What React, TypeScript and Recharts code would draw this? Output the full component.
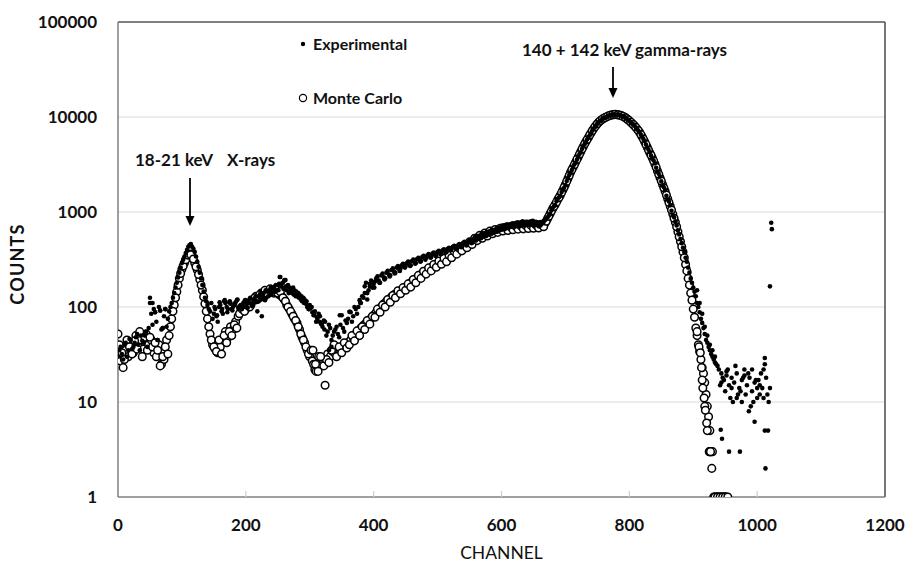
import React from "react";
import { ScatterChart, Scatter, XAxis, YAxis, ReferenceLine } from "recharts";

// ---------- data ----------
// channels sampled every 4 (set A) and the in-between channels (set B)
const channelsA = [
  0, 4, 8, 12, 16, 20, 24, 28, 32, 36,
  40, 44, 48, 52, 56, 60, 64, 68, 72, 76,
  80, 84, 88, 92, 96, 100, 104, 108, 112, 116,
  120, 124, 128, 132, 136, 140, 144, 148, 152, 156,
  160, 164, 168, 172, 176, 180, 184, 188, 192, 196,
  200, 204, 208, 212, 216, 220, 224, 228, 232, 236,
  240, 244, 248, 252, 256, 260, 264, 268, 272, 276,
  280, 284, 288, 292, 296, 300, 304, 308, 312, 316,
  320, 324, 328, 332, 336, 340, 344, 348, 352, 356,
  360, 364, 368, 372, 376, 380, 384, 388, 392, 396,
  400, 404, 408, 412, 416, 420, 424, 428, 432, 436,
  440, 444, 448, 452, 456, 460, 464, 468, 472, 476,
  480, 484, 488, 492, 496, 500, 504, 508, 512, 516,
  520, 524, 528, 532, 536, 540, 544, 548, 552, 556,
  560, 564, 568, 572, 576, 580, 584, 588, 592, 596,
  600, 604, 608, 612, 616, 620, 624, 628, 632, 636,
  640, 644, 648, 652, 656, 660, 664, 668, 672, 676,
  680, 684, 688, 692, 696, 700, 704, 708, 712, 716,
  720, 724, 728, 732, 736, 740, 744, 748, 752, 756,
  760, 764, 768, 772, 776, 780, 784, 788, 792, 796,
  800, 804, 808, 812, 816, 820, 824, 828, 832, 836,
  840, 844, 848, 852, 856, 860, 864, 868, 872, 876,
  880, 884, 888, 892, 896, 900, 904, 908, 912, 916,
  920, 924, 928, 932, 936, 940, 944, 948, 952, 956,
  960, 964, 968, 972, 976, 980, 984, 988, 992, 996,
  1000, 1004, 1008, 1012, 1016, 1020,
];

const channelsB = [
  2, 6, 10, 14, 18, 22, 26, 30, 34, 38,
  42, 46, 50, 54, 58, 62, 66, 70, 74, 78,
  82, 86, 90, 94, 98, 102, 106, 110, 114, 118,
  122, 126, 130, 134, 138, 142, 146, 150, 154, 158,
  162, 166, 170, 174, 178, 182, 186, 190, 194, 198,
  202, 206, 210, 214, 218, 222, 226, 230, 234, 238,
  242, 246, 250, 254, 258, 262, 266, 270, 274, 278,
  282, 286, 290, 294, 298, 302, 306, 310, 314, 318,
  322, 326, 330, 334, 338, 342, 346, 350, 354, 358,
  362, 366, 370, 374, 378, 382, 386, 390, 394, 398,
  402, 406, 410, 414, 418, 422, 426, 430, 434, 438,
  442, 446, 450, 454, 458, 462, 466, 470, 474, 478,
  482, 486, 490, 494, 498, 502, 506, 510, 514, 518,
  522, 526, 530, 534, 538, 542, 546, 550, 554, 558,
  562, 566, 570, 574, 578, 582, 586, 590, 594, 598,
  602, 606, 610, 614, 618, 622, 626, 630, 634, 638,
  642, 646, 650, 654, 658, 662, 666, 670, 674, 678,
  682, 686, 690, 694, 698, 702, 706, 710, 714, 718,
  722, 726, 730, 734, 738, 742, 746, 750, 754, 758,
  762, 766, 770, 774, 778, 782, 786, 790, 794, 798,
  802, 806, 810, 814, 818, 822, 826, 830, 834, 838,
  842, 846, 850, 854, 858, 862, 866, 870, 874, 878,
  882, 886, 890, 894, 898, 902, 906, 910, 914, 918,
  922, 926, 930, 934, 938, 942, 946, 950, 954, 958,
  962, 966, 970, 974, 978, 982, 986, 990, 994, 998,
  1002, 1006, 1010, 1014, 1018,
];

const experimentalCountsA = [
  30, 38, 28, 42, 35, 45, 38, 48, 40, 50,
  42, 55, 60, 85, 95, 70, 100, 58, 80, 62,
  90, 110, 140, 180, 230, 290, 340, 400, 450, 430,
  380, 300, 230, 170, 125, 105, 90, 75, 95, 70,
  105, 85, 110, 95, 108, 100, 112, 98, 105, 110,
  100, 115, 108, 120, 112, 130, 120, 140, 125, 150,
  140, 160, 150, 175, 165, 190, 150, 160, 140, 150,
  130, 135, 115, 120, 100, 105, 88, 90, 75, 80,
  62, 70, 55, 60, 50, 58, 52, 65, 60, 72,
  75, 88, 80, 95, 100, 110, 125, 180, 150, 190,
  175, 200, 190, 215, 205, 230, 220, 245, 235, 260,
  250, 275, 265, 290, 280, 305, 295, 320, 310, 335,
  325, 350, 340, 365, 355, 380, 370, 395, 385, 410,
  400, 430, 420, 445, 435, 470, 455, 490, 480, 520,
  500, 550, 530, 580, 560, 610, 590, 640, 620, 670,
  650, 700, 680, 720, 700, 750, 720, 760, 730, 770,
  740, 780, 750, 770, 730, 760, 780, 820, 880, 960,
  1100, 1180, 1380, 1480, 1730, 1920, 2280, 2580, 2990, 3320,
  3850, 4260, 4950, 5450, 6150, 6750, 7550, 8150, 8850, 9250,
  9750, 9950, 10350, 10450, 10650, 10550, 10550, 10250, 10050, 9550,
  9150, 8550, 8150, 7450, 6950, 6150, 5550, 4750, 4250, 3650,
  3250, 2650, 2350, 1900, 1700, 1350, 1180, 930, 800, 640,
  520, 420, 330, 260, 200, 160, 130, 100, 75, 60,
  45, 38, 32, 28, 25, 22, 20, 17, 19, 15,
  18, 16, 20, 14, 17, 22, 15, 18, 13, 16,
  14, 12, 14, 25, 12, 14,
];

const experimentalCountsB = [
  35, 32, 40, 30, 46, 36, 42, 52, 35, 44,
  50, 38, 110, 65, 88, 45, 92, 60, 95, 75,
  100, 125, 160, 205, 260, 315, 370, 430, 460, 410,
  340, 265, 200, 145, 115, 95, 110, 85, 80, 100,
  90, 115, 100, 112, 95, 108, 118, 102, 95, 115,
  108, 122, 102, 118, 90, 135, 128, 118, 145, 135,
  155, 145, 170, 207, 180, 192, 170, 145, 160, 130,
  140, 120, 125, 108, 95, 98, 82, 70, 85, 66,
  72, 50, 65, 45, 55, 62, 48, 82, 55, 68,
  89, 70, 100, 85, 118, 130, 165, 140, 175, 160,
  185, 210, 180, 225, 200, 240, 215, 255, 230, 270,
  255, 285, 270, 300, 275, 315, 290, 330, 305, 345,
  330, 360, 335, 375, 350, 390, 365, 405, 380, 420,
  410, 440, 415, 460, 440, 485, 460, 505, 475, 540,
  520, 565, 545, 600, 575, 630, 600, 655, 625, 690,
  665, 710, 690, 740, 705, 765, 715, 780, 725, 790,
  735, 800, 720, 790, 710, 750, 800, 850, 920, 1040,
  1150, 1300, 1430, 1620, 1800, 2120, 2450, 2760, 3180, 3560,
  4080, 4620, 5180, 5820, 6420, 7180, 7820, 8520, 9020, 9520,
  9820, 10200, 10380, 10580, 10620, 10520, 10420, 10120, 9820, 9320,
  8820, 8380, 7780, 7220, 6520, 5880, 5120, 4520, 3920, 3480,
  2920, 2530, 2100, 1820, 1480, 1290, 1030, 880, 720, 580,
  470, 380, 300, 230, 180, 145, 110, 88, 68, 52,
  42, 35, 30, 26, 24, 15, 18, 13, 22, 11,
  10, 24, 12, 13, 18, 12, 20, 9, 10, 17,
  17, 20, 11, 18, 10,
];

const monteCarloCountsA = [
  52, 27, 23, 35, 30, 42, 33, 50, 38, 45,
  36, 52, 40, 45, 33, 30, 40, 25, 28, 45,
  50, 75, 105, 145, 200, 250, 290, 330, 360, 340,
  290, 245, 195, 150, 108, 75, 52, 40, 36, 33,
  38, 45, 55, 48, 62, 58, 70, 80, 90, 100,
  95, 110, 105, 120, 130, 125, 140, 135, 145, 140,
  150, 140, 150, 135, 130, 120, 105, 95, 85, 75,
  68, 58, 48, 42, 35, 30, 27, 22, 24, 26,
  28, 15, 32, 30, 34, 32, 36, 35, 38, 40,
  42, 45, 48, 52, 55, 60, 64, 68, 72, 76,
  82, 88, 92, 100, 108, 115, 120, 128, 135, 140,
  145, 150, 158, 165, 175, 185, 195, 205, 215, 225,
  235, 245, 255, 265, 275, 285, 295, 305, 320, 335,
  350, 365, 380, 395, 410, 425, 440, 460, 480, 500,
  520, 540, 555, 570, 585, 600, 615, 625, 635, 645,
  650, 660, 665, 670, 675, 680, 680, 685, 690, 690,
  690, 695, 695, 700, 700, 710, 720, 760, 850, 960,
  1080, 1200, 1350, 1500, 1700, 1950, 2250, 2600, 2950, 3350,
  3800, 4300, 4900, 5500, 6100, 6800, 7500, 8200, 8800, 9300,
  9700, 10000, 10300, 10500, 10600, 10600, 10500, 10300, 10000, 9600,
  9100, 8600, 8100, 7500, 6900, 6200, 5500, 4800, 4200, 3700,
  3200, 2700, 2300, 1950, 1650, 1380, 1150, 950, 780, 620,
  490, 380, 280, 200, 140, 95, 60, 40, 28, 20,
  12, 7, 3, 1, 1, 1, 1, 1, 1, null,
  null, null, null, null, null, null, null, null, null, null,
  null, null, null, null, null, null,
];

const monteCarloCountsB = [
  40, 33, 28, 45, 38, 32, 44, 36, 55, 30,
  48, 35, 48, 38, 42, 35, 24, 30, 38, 32,
  62, 90, 125, 170, 225, 270, 315, 350, 355, 320,
  265, 220, 170, 128, 90, 62, 45, 38, 34, 45,
  32, 50, 42, 55, 50, 65, 60, 85, 95, 90,
  105, 100, 115, 125, 120, 135, 130, 150, 138, 155,
  145, 155, 140, 145, 125, 115, 100, 90, 80, 72,
  62, 52, 45, 38, 32, 35, 25, 21, 30, 24,
  24, 28, 26, 35, 40, 30, 38, 33, 42, 37,
  40, 50, 44, 56, 50, 62, 58, 72, 66, 80,
  78, 95, 88, 105, 100, 120, 112, 132, 125, 148,
  138, 160, 150, 175, 162, 195, 180, 215, 200, 238,
  222, 258, 240, 280, 262, 305, 282, 325, 300, 350,
  330, 385, 360, 415, 390, 450, 420, 485, 455, 530,
  500, 570, 530, 600, 560, 630, 590, 655, 610, 675,
  630, 690, 640, 700, 650, 710, 660, 715, 665, 720,
  670, 725, 675, 730, 680, 740, 700, 800, 900, 1020,
  1140, 1270, 1420, 1600, 1820, 2100, 2420, 2780, 3150, 3580,
  4050, 4600, 5200, 5800, 6450, 7150, 7850, 8500, 9050, 9500,
  9850, 10150, 10400, 10550, 10650, 10550, 10400, 10150, 9800, 9350,
  8850, 8350, 7800, 7200, 6550, 5850, 5150, 4500, 3950, 3450,
  2950, 2500, 2120, 1800, 1510, 1260, 1050, 860, 700, 550,
  430, 330, 240, 170, 118, 78, 50, 34, 23, 16,
  9, 5, 3, 1, 1, 1, 1, 1, null, null,
  null, null, null, null, null, null, null, null, null, null,
  null, null, null, null, null,
];

// scattered off-grid experimental points (band spread and outliers)
const experimentalExtraChannels = [
  50, 54, 58, 66, 70, 74, 62, 225, 253, 261, 379, 347, 363, 330, 334, 386, 390, 394,
  151, 155, 159, 163, 167, 171, 175, 179, 183, 187, 191, 195, 199, 203, 207, 211,
  215, 219, 223, 227, 231, 235, 239, 243, 247, 251, 255, 259, 263, 267, 271, 275,
  279, 283, 287, 291, 295, 299, 303, 307, 311, 315, 319, 323,
  401, 409, 417, 425, 433, 441, 449, 457, 465, 473, 481, 489, 497, 505, 513, 521,
  529, 537, 545, 553,
  561, 565, 569, 573, 577, 581, 585, 589, 593, 597, 601, 605, 609, 613, 617, 621,
  625, 629, 633, 637, 641, 645, 649, 653, 657, 661, 665,
  906, 910, 914, 918, 922, 926, 930, 934,
  944, 952, 960, 968, 980, 992, 1000, 1004, 1010,
  943, 945, 956, 973, 976, 987, 996, 1012, 1017, 1013, 1012, 1022, 1023, 1020,
];
const experimentalExtraCounts = [
  125, 110, 88, 92, 60, 95, 45, 80, 207, 192, 110, 82, 89, 35, 38, 140, 120, 165,
  100, 82, 112, 95, 118, 88, 115, 92, 105, 120, 96, 102, 118, 98, 125, 110,
  128, 115, 140, 125, 150, 130, 160, 145, 170, 150, 175, 155, 165, 140, 155, 135,
  145, 125, 130, 110, 115, 95, 100, 85, 78, 70, 68, 58,
  160, 180, 195, 210, 225, 240, 260, 270, 285, 300, 315, 330, 345, 360, 375, 395,
  410, 425, 445, 470,
  560, 520, 600, 560, 620, 580, 650, 610, 680, 640, 720, 660, 740, 690, 760, 700,
  780, 710, 800, 720, 790, 730, 810, 740, 780, 720, 760,
  150, 110, 85, 62, 50, 40, 35, 30,
  16, 21, 14, 11, 19, 22, 11, 15, 22,
  5.1, 4.1, 3, 3, 10, 8, 6.2, 5, 5, 2, 29, 770, 660, 165,
];

const monteCarloExtraChannels = [
  305, 309, 313, 317,
  906, 909, 911, 913, 914, 915, 917, 918, 919, 921, 922, 925, 926, 927, 929,
  934, 938, 942, 946, 950, 954,
];
const monteCarloExtraCounts = [
  35, 25, 21, 30,
  55, 38, 33, 23, 17, 14, 11, 9, 8.2, 6, 5, 3, 3, 3, 2,
  1, 1, 1, 1, 1, 1,
];

const xTicks = [0, 200, 400, 600, 800, 1000, 1200];
const yTicks = [1, 10, 100, 1000, 10000, 100000];
const gridValues = [10, 100, 1000, 10000];

// ---------- layout ----------
const W = 905;
const H = 562;
const MARGIN = { top: 22, right: 20, bottom: 25, left: 18 };
const YAXIS_W = 100;
const XAXIS_H = 40;
const PLOT_LEFT = MARGIN.left + YAXIS_W;
const PLOT_RIGHT = W - MARGIN.right;
const PLOT_BOTTOM = H - MARGIN.bottom - XAXIS_H;
const FONT = "Lato, 'Open Sans', sans-serif";

type P = { x: number; y: number };
const build = (ch: number[], vals: (number | null)[]): P[] =>
  ch
    .map((c, i) => ({ x: c, y: vals[i] as number }))
    .filter((p) => p.y != null && p.y > 0);

const expData = [
  ...build(channelsA, experimentalCountsA),
  ...build(channelsB, experimentalCountsB),
  ...build(experimentalExtraChannels, experimentalExtraCounts),
];
const mcData = [
  ...build(channelsA, monteCarloCountsA),
  ...build(channelsB, monteCarloCountsB),
  ...build(monteCarloExtraChannels, monteCarloExtraCounts),
];

const ExpDot = (props: any) =>
  props.cx == null ? null : <circle cx={props.cx} cy={props.cy} r={2.3} fill="#000" />;
const McDot = (props: any) =>
  props.cx == null ? null : (
    <circle cx={props.cx} cy={props.cy} r={3.8} fill="#fff" stroke="#000" strokeWidth={1.5} />
  );

const YTick = (props: any) => (
  <text
    x={PLOT_LEFT - 21}
    y={props.y}
    dy="0.35em"
    textAnchor="end"
    fontFamily={FONT}
    fontWeight={700}
    fontSize={17}
    fill="#111"
  >
    {props.payload.value}
  </text>
);

const XTick = (props: any) => {
  const v = props.payload.value;
  const inner = v !== xTicks[0] && v !== xTicks[xTicks.length - 1];
  return (
    <g>
      {inner && (
        <line x1={props.x} x2={props.x} y1={PLOT_BOTTOM} y2={PLOT_BOTTOM - 6} stroke="#cfcfcf" strokeWidth={1.2} />
      )}
      <text
        x={props.x}
        y={PLOT_BOTTOM + 28}
        dy="0.35em"
        textAnchor="middle"
        fontFamily={FONT}
        fontWeight={700}
        fontSize={17}
        fill="#111"
      >
        {v}
      </text>
    </g>
  );
};

const Arrow = ({ x, y1, y2 }: { x: number; y1: number; y2: number }) => (
  <g>
    <line x1={x} x2={x} y1={y1} y2={y2 - 9} stroke="#000" strokeWidth={1.8} />
    <polygon points={`${x - 4.5},${y2 - 10} ${x + 4.5},${y2 - 10} ${x},${y2}`} fill="#000" />
  </g>
);

export default function App() {
  const textStyle = { fontFamily: FONT, fill: "#111" };
  return (
    <div style={{ position: "relative", width: W, height: H, background: "#fff" }}>
      <style>{`body{margin:0;background:#fff}`}</style>
      <ScatterChart width={W} height={H} margin={MARGIN}>
        <XAxis
          type="number"
          dataKey="x"
          domain={[0, 1200]}
          ticks={xTicks}
          interval={0}
          height={XAXIS_H}
          axisLine={{ stroke: "#7f7f7f", strokeWidth: 1.5 }}
          tickLine={false}
          tick={<XTick />}
          allowDataOverflow
        />
        <YAxis
          type="number"
          dataKey="y"
          scale="log"
          domain={[1, 100000]}
          ticks={yTicks}
          interval={0}
          width={YAXIS_W}
          axisLine={{ stroke: "#7f7f7f", strokeWidth: 1.5 }}
          tickLine={false}
          tick={<YTick />}
          allowDataOverflow
        />
        {gridValues.map((g) => (
          <ReferenceLine key={g} y={g} stroke="#d9d9d9" strokeWidth={1.2} />
        ))}
        <ReferenceLine y={100000} stroke="#555" strokeWidth={1.6} />
        <ReferenceLine x={1200} stroke="#555" strokeWidth={1.6} />
        <Scatter name="Monte Carlo" data={mcData} shape={<McDot />} isAnimationActive={false} />
        <Scatter name="Experimental" data={expData} shape={<ExpDot />} isAnimationActive={false} />
      </ScatterChart>
      <svg
        width={W}
        height={H}
        style={{ position: "absolute", left: 0, top: 0, pointerEvents: "none" }}
      >
        {/* legend */}
        <circle cx={303} cy={44} r={2.2} fill="#000" />
        <text x={313} y={44} dy="0.35em" fontSize={16} fontWeight={700} style={textStyle}>
          Experimental
        </text>
        <circle cx={303} cy={98} r={3.6} fill="#fff" stroke="#000" strokeWidth={1.2} />
        <text x={313} y={98} dy="0.35em" fontSize={16} fontWeight={700} style={textStyle}>
          Monte Carlo
        </text>
        {/* annotations */}
        <text x={135} y={160} dy="0.35em" fontSize={17} fontWeight={700} style={textStyle}>
          18-21 keV
        </text>
        <text x={227} y={160} dy="0.35em" fontSize={17} fontWeight={700} style={textStyle}>
          X-rays
        </text>
        <Arrow x={190} y1={178} y2={226} />
        <text x={522} y={50} dy="0.35em" fontSize={17} fontWeight={700} style={textStyle}>
          140 + 142 keV gamma-rays
        </text>
        <Arrow x={613} y1={67} y2={98} />
        {/* axis titles */}
        <text
          x={18}
          y={264}
          dy="0.35em"
          textAnchor="middle"
          fontSize={18}
          fontWeight={700}
          letterSpacing={1.2}
          transform="rotate(-90 18 264)"
          style={textStyle}
        >
          COUNTS
        </text>
        <text
          x={(PLOT_LEFT + PLOT_RIGHT) / 2}
          y={553}
          dy="0.35em"
          textAnchor="middle"
          fontSize={17.5}
          fontWeight={400}
          style={textStyle}
        >
          CHANNEL
        </text>
      </svg>
    </div>
  );
}
